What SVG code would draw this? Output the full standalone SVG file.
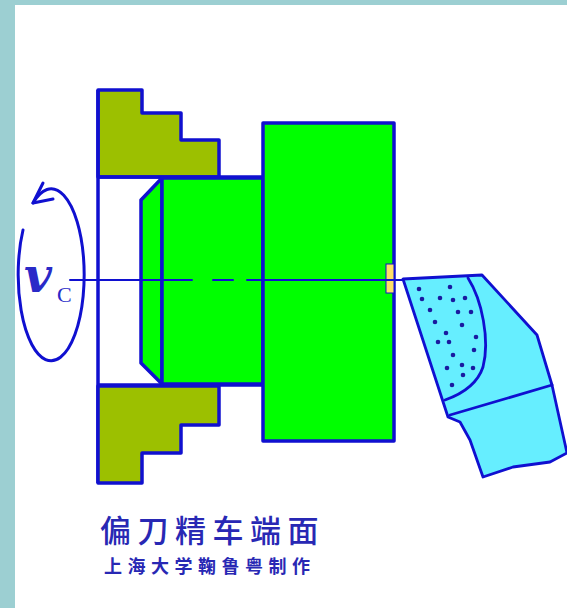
<svg xmlns="http://www.w3.org/2000/svg" width="567" height="608" viewBox="0 0 567 608">
  <style>
    .ol { stroke: #1010d0; stroke-width: 3.5; stroke-linejoin: round; }
    .thin { stroke: #1010d0; stroke-width: 2; fill: none; stroke-linecap: round; stroke-linejoin: round; }
    .line { stroke: #1010d0; stroke-width: 2.8; fill: none; stroke-linecap: round; stroke-linejoin: round; }
    .jaw { fill: #9cc000; }
    .work { fill: #00ff00; }
    .tool { fill: #66eeff; stroke: #1010d0; stroke-width: 2.8; stroke-linejoin: round; }
    .dot { fill: #1a1aa0; }
    .cjk { font-family: "Noto Sans CJK SC", "Noto Sans CJK TC", sans-serif; fill: #2828b4; }
  </style>

  <!-- frame -->
  <rect x="0" y="0" width="567" height="608" fill="#9ccfd2"/>
  <rect x="15" y="5" width="552" height="603" fill="#ffffff"/>

  <!-- chuck: upper jaw, body opening, lower jaw -->
  <g id="upper-jaw">
    <path class="ol jaw" d="M98 90 H142 V113 H181 V140 H219 V177 H98 Z"/>
  </g>
  <g id="chuck-body">
    <path class="ol" fill="none" d="M98 177 H263 M98 385 H263 M98 90 V483"/>
  </g>
  <g id="lower-jaw">
    <path class="ol jaw" d="M98 386 H219 V425 H181 V453 H142 V483 H98 Z"/>
  </g>

  <!-- workpiece: chamfered small diameter and large diameter -->
  <g id="workpiece-small">
    <path class="ol work" d="M162 178 L141 200 V363 L162 384 Z"/>
    <rect class="ol work" x="162" y="178" width="101" height="206"/>
  </g>
  <g id="workpiece-large">
    <rect class="ol work" x="263" y="123" width="131" height="318"/>
    <rect x="386" y="264" width="8" height="29" fill="#ffe066" stroke="#1010d0" stroke-width="1"/>
  </g>

  <!-- cutting tool -->
  <g id="tool">
    <path class="tool" d="M403 279 L482 275 L537 335 L552 385 L567 453 L550 462 L513 467 L483 477 L470 440 L460 422 L448 417 Z"/>
    <path class="line" d="M468 278 C482 300 490 340 483 367 C478 382 465 393 445 400"/>
    <path class="line" d="M450 415 L552 385"/>
    <g class="dot">
      <circle cx="419" cy="289" r="2.3"/><circle cx="450" cy="287" r="2.3"/>
      <circle cx="422" cy="299" r="2.3"/><circle cx="440" cy="298" r="2.3"/>
      <circle cx="453" cy="300" r="2.3"/><circle cx="465" cy="298" r="2.3"/>
      <circle cx="430" cy="310" r="2.3"/><circle cx="458" cy="312" r="2.3"/>
      <circle cx="471" cy="312" r="2.3"/><circle cx="435" cy="322" r="2.3"/>
      <circle cx="462" cy="325" r="2.3"/><circle cx="446" cy="333" r="2.3"/>
      <circle cx="438" cy="342" r="2.3"/><circle cx="449" cy="342" r="2.3"/>
      <circle cx="476" cy="337" r="2.3"/><circle cx="474" cy="350" r="2.3"/>
      <circle cx="453" cy="355" r="2.3"/><circle cx="462" cy="365" r="2.3"/>
      <circle cx="447" cy="368" r="2.3"/><circle cx="473" cy="368" r="2.3"/>
      <circle cx="463" cy="375" r="2.3"/><circle cx="452" cy="385" r="2.3"/>
    </g>
  </g>

  <!-- axis and rotation -->
  <g id="connectors">
    <path class="thin" d="M70 280 H192 M213 280 H233 M247 280 H403"/>
    <path class="line" style="stroke-width:3" d="M23 230 A33 86 0 1 0 33 203"/>
    <path class="line" style="stroke-width:3" d="M43 183 L33 203 L53 199"/>
  </g>

  <g id="label-vc">
    <text x="24" y="292" font-family="DejaVu Serif, serif" font-style="italic" font-weight="bold" font-size="48" fill="#2a2ac8">v</text>
    <text x="57" y="302" font-family="Liberation Serif, serif" font-size="22" fill="#2a2ac8">C</text>
  </g>

  <g id="caption">
    <text class="cjk" x="100" y="542" font-size="31" font-weight="500" letter-spacing="6.5">偏刀精车端面</text>
    <text class="cjk" x="104" y="573" font-size="18" font-weight="bold" letter-spacing="5.5">上海大学鞠鲁粤制作</text>
  </g>
</svg>
